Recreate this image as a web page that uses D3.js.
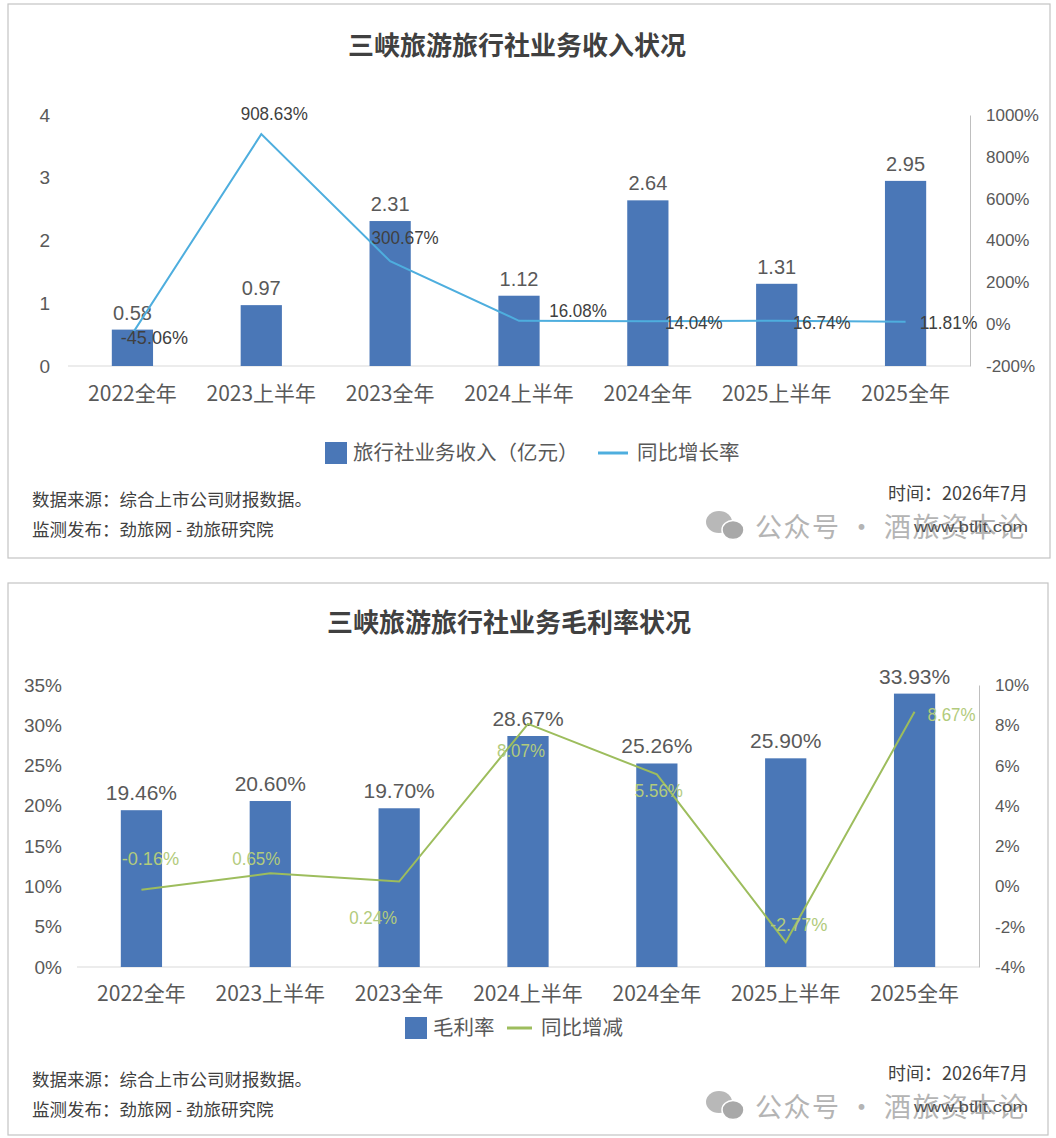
<!DOCTYPE html>
<html>
<head>
<meta charset="utf-8">
<script src="https://cdn.jsdelivr.net/npm/d3@7"></script>
<style>
  body { margin: 0; background: #fff; }
  svg text { font-family: "Liberation Sans", "Noto Sans CJK SC", sans-serif; }
  .cjk { font-family: "Noto Sans CJK SC", sans-serif !important; }
</style>
</head>
<body>
<div id="chart"></div>
<script>
// categorias comunes
const periodos = ["2022全年", "2023上半年", "2023全年", "2024上半年", "2024全年", "2025上半年", "2025全年"];

// grafica 1: ingresos (亿元) y crecimiento interanual (%)
const ingresos = [0.58, 0.97, 2.31, 1.12, 2.64, 1.31, 2.95];
const crecimiento = [-45.06, 908.63, 300.67, 16.08, 14.04, 16.74, 11.81];
const ticksIngresos = [0, 1, 2, 3, 4];
const ticksCrecimiento = [-200, 0, 200, 400, 600, 800, 1000];

// grafica 2: margen bruto (%) y variacion (%)
const margen = [19.46, 20.60, 19.70, 28.67, 25.26, 25.90, 33.93];
const variacion = [-0.16, 0.65, 0.24, 8.07, 5.56, -2.77, 8.67];
const ticksMargen = [0, 5, 10, 15, 20, 25, 30, 35];
const ticksVariacion = [-4, -2, 0, 2, 4, 6, 8, 10];

const svg = d3.select("#chart").append("svg")
  .attr("width", 1056)
  .attr("height", 1138);

const colorBarra = "#4a77b7";

// dibuja un panel completo (barras + linea en eje derecho)
const dibujarPanel = (cfg) => {
  const g = svg.append("g");

  g.append("rect")
    .attr("x", cfg.box[0]).attr("y", cfg.box[1])
    .attr("width", cfg.box[2]).attr("height", cfg.box[3])
    .attr("fill", "#fff").attr("stroke", "#c4c4c4").attr("stroke-width", 1.2);

  g.append("text")
    .attr("class", "cjk")
    .attr("x", cfg.tituloX).attr("y", cfg.tituloY)
    .attr("text-anchor", "middle")
    .attr("font-size", 26).attr("font-weight", "bold")
    .attr("fill", "#404040")
    .text(cfg.titulo);

  const x = d3.scaleBand().domain(periodos)
    .range([cfg.left, cfg.right]).paddingInner(0.68).paddingOuter(0.34);
  const yL = d3.scaleLinear().domain(cfg.domL).range([cfg.bottom, cfg.top]);
  const yR = d3.scaleLinear().domain(cfg.domR).range([cfg.bottom, cfg.top]);

  // eje izquierdo
  const ejeL = g.append("g")
    .attr("transform", `translate(${cfg.left - 4},0)`)
    .call(d3.axisLeft(yL).tickValues(cfg.ticksL).tickSize(0).tickPadding(cfg.padL).tickFormat(cfg.fmtL));
  ejeL.select(".domain").remove();
  ejeL.selectAll("text").attr("font-size", 19).attr("fill", "#595959");

  // eje derecho
  const ejeR = g.append("g")
    .attr("transform", `translate(${cfg.right},0)`)
    .call(d3.axisRight(yR).tickValues(cfg.ticksR).tickSize(0).tickSizeOuter(0).tickPadding(cfg.padR).tickFormat(d => d + "%"));
  ejeR.select(".domain").attr("stroke", "#bfbfbf");
  ejeR.selectAll("text").attr("font-size", 17).attr("fill", "#595959");

  // linea base
  g.append("line")
    .attr("x1", cfg.left).attr("x2", cfg.right)
    .attr("y1", yL(0)).attr("y2", yL(0))
    .attr("stroke", "#d9d9d9").attr("stroke-width", 1.2);

  // eje x
  const ejeX = g.append("g")
    .attr("transform", `translate(0,${cfg.bottom})`)
    .call(d3.axisBottom(x).tickSize(0).tickPadding(cfg.padX));
  ejeX.select(".domain").remove();
  ejeX.selectAll("text").attr("class", "cjk").attr("font-size", 21).attr("fill", "#595959");

  // barras
  g.selectAll("rect.bar").data(cfg.barras).enter().append("rect")
    .attr("class", "bar")
    .attr("x", (d, i) => x(periodos[i]))
    .attr("y", d => yL(d))
    .attr("width", x.bandwidth())
    .attr("height", d => yL(0) - yL(d))
    .attr("fill", colorBarra);

  g.selectAll("text.blabel").data(cfg.barras).enter().append("text")
    .attr("class", "blabel")
    .attr("x", (d, i) => x(periodos[i]) + x.bandwidth() / 2)
    .attr("y", d => yL(d) - 10)
    .attr("text-anchor", "middle")
    .attr("font-size", cfg.sizeBarra).attr("fill", "#595959")
    .text(cfg.fmtBarra);

  // linea
  const cx = (i) => x(periodos[i]) + x.bandwidth() / 2;
  const linea = d3.line().x((d, i) => cx(i)).y(d => yR(d));
  g.append("path").datum(cfg.linea)
    .attr("d", linea)
    .attr("fill", "none")
    .attr("stroke", cfg.colorLinea)
    .attr("stroke-width", 2);

  g.selectAll("text.llabel").data(cfg.linea).enter().append("text")
    .attr("class", "llabel")
    .attr("x", (d, i) => cx(i) + cfg.offLinea[i][0])
    .attr("y", (d, i) => yR(d) + cfg.offLinea[i][1])
    .attr("text-anchor", "middle")
    .attr("font-size", 19).attr("fill", cfg.colorEtiqueta)
    .attr("textLength", d => (d.toFixed(2).length + 1) * 9.6)
    .attr("lengthAdjust", "spacingAndGlyphs")
    .text(d => d.toFixed(2) + "%");

  // leyenda
  const ley = g.append("g").attr("transform", `translate(${cfg.leyX},${cfg.leyY})`);
  ley.append("rect").attr("x", 0).attr("y", -11).attr("width", 22).attr("height", 22).attr("fill", colorBarra);
  ley.append("text").attr("class", "cjk").attr("x", 28).attr("y", 7)
    .attr("font-size", 20.5).attr("fill", "#595959").text(cfg.leyBarra);
  ley.append("line").attr("x1", cfg.leyLineaX).attr("x2", cfg.leyLineaX + cfg.leyLineaW)
    .attr("y1", 0).attr("y2", 0).attr("stroke", cfg.colorLinea).attr("stroke-width", 3);
  ley.append("text").attr("class", "cjk").attr("x", cfg.leyLineaX + cfg.leyLineaW + 9).attr("y", 7)
    .attr("font-size", 20.5).attr("fill", "#595959").text(cfg.leyLinea);

  // pie: fuente y fecha
  const pie = g.append("g");
  pie.append("text").attr("class", "cjk").attr("x", 32).attr("y", cfg.pieY)
    .attr("font-size", 17.5).attr("fill", "#404040").text("数据来源：综合上市公司财报数据。");
  pie.append("text").attr("class", "cjk").attr("x", 32).attr("y", cfg.pieY + 30)
    .attr("font-size", 17.5).attr("fill", "#404040").text("监测发布：劲旅网 - 劲旅研究院");
  pie.append("text").attr("class", "cjk").attr("x", 1028).attr("y", cfg.pieY - 6)
    .attr("text-anchor", "end")
    .attr("font-size", 18).attr("fill", "#404040").text("时间：2026年7月");

  // marca de agua
  const wm = g.append("g").attr("transform", `translate(0,${cfg.pieY + 20})`);
  wm.append("ellipse").attr("cx", 719).attr("cy", -4).attr("rx", 13).attr("ry", 11).attr("fill", "#b8b8b8");
  wm.append("ellipse").attr("cx", 733).attr("cy", 4).attr("rx", 11).attr("ry", 9.5).attr("fill", "#a8a8a8")
    .attr("stroke", "#fff").attr("stroke-width", 1.5);
  wm.append("text").attr("class", "cjk").attr("x", 755).attr("y", 11)
    .attr("font-size", 27).attr("fill", "#b4b4b4")
    .attr("textLength", 270).attr("lengthAdjust", "spacing")
    .text("公众号 · 酒旅资本论");
  wm.append("text").attr("x", 1028).attr("y", 6).attr("text-anchor", "end")
    .attr("font-size", 15).attr("fill", "#505050")
    .attr("textLength", 114).attr("lengthAdjust", "spacingAndGlyphs")
    .text("www.btlit.com");
};

dibujarPanel({
  box: [8, 4, 1042, 554],
  titulo: "三峡旅游旅行社业务收入状况", tituloX: 517, tituloY: 55,
  left: 68, right: 970, top: 115, bottom: 366,
  domL: [0, 4], domR: [-200, 1000],
  ticksL: ticksIngresos, ticksR: ticksCrecimiento,
  fmtL: d3.format("d"), padL: 14, padR: 16, padX: 20,
  barras: ingresos, fmtBarra: d => d.toFixed(2), sizeBarra: 20,
  linea: crecimiento, colorLinea: "#4eaede", colorEtiqueta: "#404040",
  offLinea: [[22, 10], [13, -14], [15, -17], [59, -4], [46, 8], [45, 8], [43, 7]],
  leyX: 325, leyY: 453, leyBarra: "旅行社业务收入（亿元）", leyLinea: "同比增长率", leyLineaX: 273, leyLineaW: 30,
  pieY: 506
});

dibujarPanel({
  box: [8, 583, 1040, 552],
  titulo: "三峡旅游旅行社业务毛利率状况", tituloX: 509, tituloY: 632,
  left: 77, right: 979, top: 685, bottom: 967,
  domL: [0, 35], domR: [-4, 10],
  ticksL: ticksMargen, ticksR: ticksVariacion,
  fmtL: d => d + "%", padL: 11, padR: 16, padX: 19,
  barras: margen, fmtBarra: d => d.toFixed(2) + "%", sizeBarra: 21,
  linea: variacion, colorLinea: "#9dbd5d", colorEtiqueta: "#b2cb7c",
  offLinea: [[9, -25], [-14, -8], [-26, 42], [-7, 33], [2, 23], [13, -11], [37, 9]],
  leyX: 405, leyY: 1028, leyBarra: "毛利率", leyLinea: "同比增减", leyLineaX: 102, leyLineaW: 25,
  pieY: 1086
});
</script>
</body>
</html>
